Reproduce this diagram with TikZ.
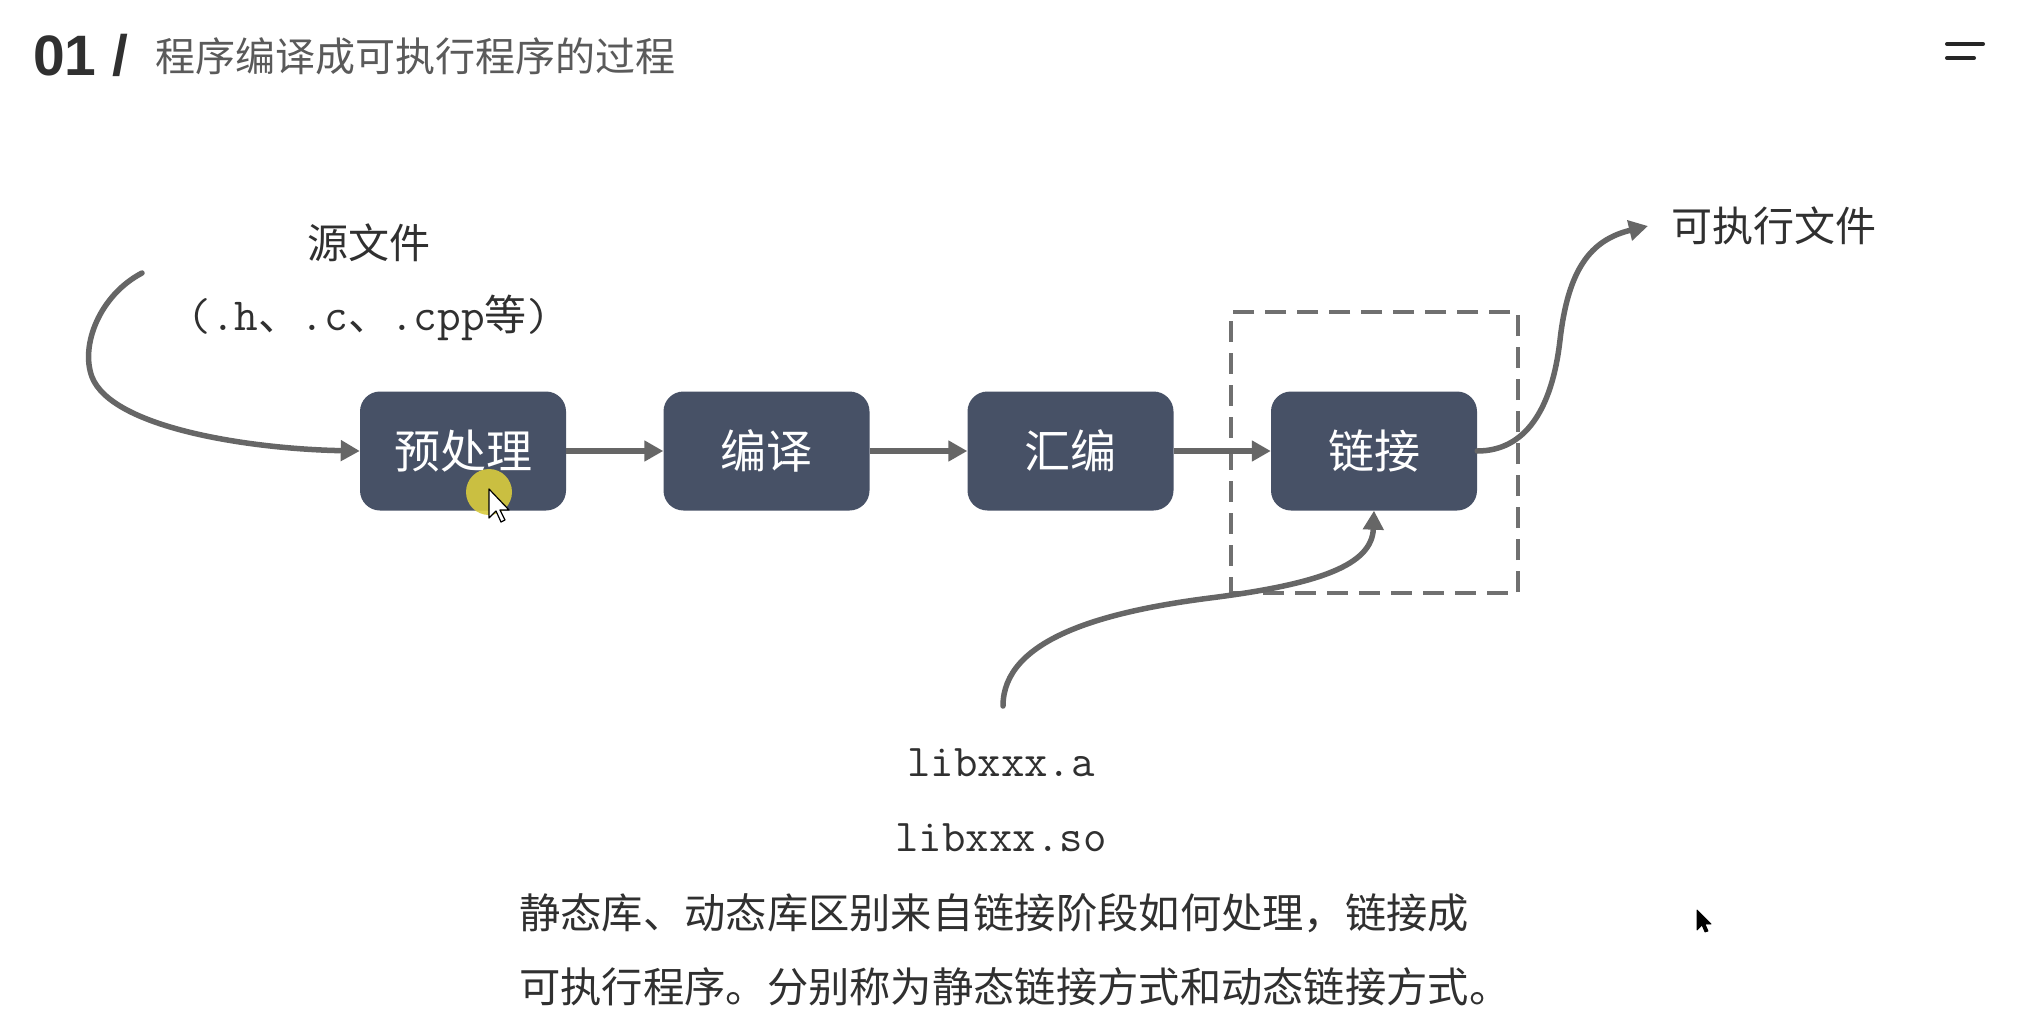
\documentclass[tikz,border=0pt]{standalone}
\usepackage{fontspec}
\setmainfont{Noto Sans CJK SC}
\newfontfamily\cjk{Noto Sans CJK SC}
\newfontfamily\headfont{Liberation Sans}
\usetikzlibrary{arrows.meta,calc}

\definecolor{stagefill}{HTML}{475166}
\definecolor{wire}{HTML}{666666}
\definecolor{ink}{HTML}{303030}
\definecolor{headgray}{HTML}{5A5A5A}
\definecolor{zonegray}{HTML}{707070}
\definecolor{spot}{HTML}{D9CB3E}

\newcommand{\fsz}[1]{\fontsize{#1}{#1}\selectfont}

\begin{document}
\begin{tikzpicture}[x=1pt,y=-1pt,
  stage/.style={rectangle, rounded corners=20pt, fill=stagefill,
    minimum width=206pt, minimum height=119pt, inner sep=0pt,
    text=white, font=\cjk\fsz{46}},
  flow/.style={draw=wire, line width=5.5pt,
    -{Triangle[length=19pt,width=20pt]}},
  curveflow/.style={flow, line cap=round},
  zone/.style={draw=zonegray, line width=4pt, dash pattern=on 21pt off 11pt,
    minimum width=287pt, minimum height=281pt, inner sep=0pt},
  caption/.style={text=ink, font=\cjk\fsz{41}, inner sep=0pt},
  codetext/.style={text=ink, font=\ttfamily\fsz{45.5}, inner sep=0pt},
  note/.style={text=ink, font=\cjk\fsz{41.3}, inner sep=0pt, anchor=west},
]
% canvas
\useasboundingbox (0,0) rectangle (2029,1022);
\fill[white] (0,0) rectangle (2029,1022);

% heading
\node[anchor=west, inner sep=0pt, text=ink, font=\headfont\bfseries\fsz{57}]
  (num) at (33,55) {01 /};
\node[anchor=west, inner sep=0pt, text=headgray, font=\cjk\fsz{40}]
  (title) at (155,56) {程序编译成可执行程序的过程};

% menu icon
\draw[line width=4pt, line cap=round, black!85] (1947,44) -- (1983,44);
\draw[line width=4pt, line cap=round, black!85] (1947,58) -- (1974,58);

% linking zone
\node[zone] (zone) at (1374.5,452.5) {};

% stages
\node[stage] (pre) at (463,451) {预处理};
\node[stage] (cmp) at (766.5,451) {编译};
\node[stage] (asm) at (1070.5,451) {汇编};
\node[stage] (lnk) at (1374,451) {链接};

\draw[flow] (pre) -- (cmp);
\draw[flow] (cmp) -- (asm);
\draw[flow] (asm) -- (lnk);

% inputs and output
\node[caption] (src) at (369,243) {源文件};
\node[text=ink, inner sep=0pt] (srcext) at (369,318)
  {\ttfamily\fsz{46}(.h{\cjk\fsz{42}、}.c{\cjk\fsz{42}、}.cpp{\cjk\fsz{42}等})};
\node[caption] (exe) at (1774,226) {可执行文件};
\node[codetext] (liba) at (1001,763) {libxxx.a};
\node[codetext] (libso) at (1001,838) {libxxx.so};

\coordinate (srcstart) at (142,273);
\coordinate (exetip) at (1648,226);
\coordinate (libstart) at (1003,706);

\draw[curveflow] (srcstart) .. controls (100,295) and (80,345) .. (92,377)
  .. controls (112,428) and (250,449) .. (pre.west);
\draw[curveflow] (lnk.east) .. controls (1525,451) and (1552,410) .. (1560,340)
  .. controls (1568,270) and (1590,240) .. (exetip);
\draw[curveflow] (libstart) .. controls (1003,640) and (1100,612) .. (1210,598)
  .. controls (1320,584) and (1372,565) .. (lnk.south);

% explanation
\node[note] (note1) at (519,913) {静态库、动态库区别来自链接阶段如何处理，链接成};
\node[note] (note2) at (519,987) {可执行程序。分别称为静态链接方式和动态链接方式。};

% pointer highlight
\fill[spot, opacity=0.9] (489,492) circle (23pt);
\filldraw[fill=white, draw=black, line width=1.2pt, line join=round]
  (489,489) -- (489,518) -- (496,511) -- (501,522) -- (505,520) -- (500,510)
  -- (509,510) -- cycle;
\filldraw[fill=black, draw=black, line width=0.8pt, line join=round]
  (1697,910) -- (1697,930) -- (1702,925) -- (1705,932) -- (1708,931)
  -- (1705,924) -- (1711,924) -- cycle;
\end{tikzpicture}
\end{document}
